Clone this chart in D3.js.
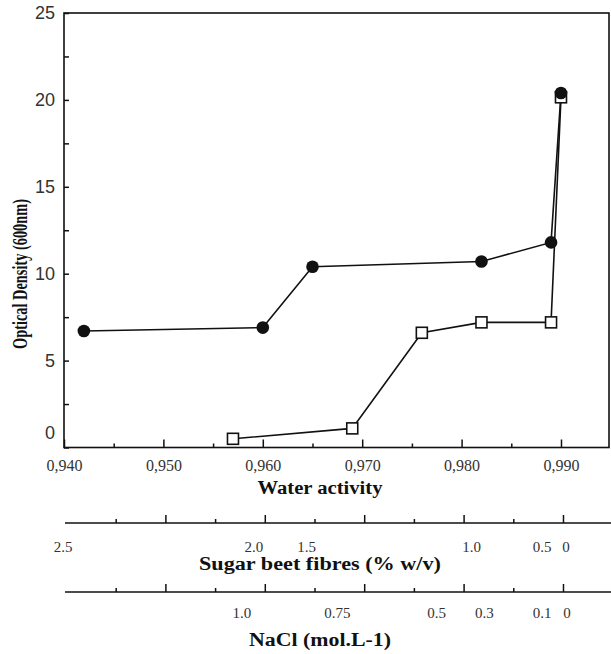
<!DOCTYPE html>
<html lang="en">
<head>
    <meta charset="UTF-8">
    <title>Optical Density vs Water activity</title>
    <script src="https://d3js.org/d3.v7.min.js"></script>
    <style>
        body { margin: 0; background: #fff; }
        svg { display: block; }
        .ytick text { font-family: "Liberation Sans", Arial, sans-serif; font-size: 18px; fill: #333; }
        .xtick text { font-family: "Liberation Serif", "Times New Roman", serif; font-size: 16px; fill: #333; }
        .title { font-family: "Liberation Serif", "Times New Roman", serif; font-weight: bold; fill: #111; }
        .sublabel { font-family: "Liberation Serif", "Times New Roman", serif; font-size: 15px; fill: #333; text-anchor: middle; }
    </style>
</head>
<body>
    <svg width="611" height="654"></svg>
    <script>
        // sugar beet fibre series (filled circles)
        const fibreAw = [0.942, 0.960, 0.965, 0.982, 0.989, 0.990];
        const fibreOD = [6.7, 6.9, 10.4, 10.7, 11.8, 20.4];
        // NaCl series (open squares)
        const naclAw = [0.957, 0.969, 0.976, 0.982, 0.989, 0.990];
        const naclOD = [0.5, 1.1, 6.6, 7.2, 7.2, 20.15];

        const yTicks = [0, 5, 10, 15, 20, 25];
        const xTicks = [0.94, 0.95, 0.96, 0.97, 0.98, 0.99];

        // concentration labels and the water activity they sit under
        const sugarLabels = ["2.5", "2.0", "1.5", "1.0", "0.5", "0"];
        const sugarAw = [0.9399, 0.9591, 0.9644, 0.9810, 0.9881, 0.9905];
        const naclLabels = ["1.0", "0.75", "0.5", "0.3", "0.1", "0"];
        const naclLabelAw = [0.9579, 0.9675, 0.9775, 0.9823, 0.9881, 0.9906];

        const plotLeft = 64, plotRight = 609, plotTop = 13, plotBottom = 447.5;

        const svg = d3.select("svg");
        const x = d3.scaleLinear().domain([0.94, 0.99483]).range([plotLeft, plotRight]);
        const y = d3.scaleLinear().domain([0, 25]).range([plotBottom, plotTop]);
        const fmt = d => d3.format(".3f")(d).replace(".", ",");

        // y axis: labelled ticks and minor ticks, pointing inward
        const yAxis = svg.append("g").attr("class", "ytick")
            .attr("transform", `translate(${plotLeft},0)`)
            .call(d3.axisLeft(y).tickValues(yTicks).tickSize(-5).tickPadding(9));
        yAxis.selectAll("text").filter(d => d === 0).attr("dy", "-0.5em");
        svg.append("g").attr("transform", `translate(${plotLeft},0)`)
            .call(d3.axisLeft(y).tickValues([2.5, 7.5, 12.5, 17.5, 22.5]).tickSize(-5).tickFormat(""));

        // x axis
        svg.append("g").attr("class", "xtick")
            .attr("transform", `translate(0,${plotBottom})`)
            .call(d3.axisBottom(x).tickValues(xTicks).tickSize(-8).tickPadding(12).tickFormat(fmt));
        svg.append("g").attr("transform", `translate(0,${plotBottom})`)
            .call(d3.axisBottom(x).tickValues([0.945, 0.955, 0.965, 0.975, 0.985]).tickSize(-4).tickFormat(""));

        svg.selectAll(".domain").remove();
        svg.selectAll(".tick line").attr("stroke", "#111").attr("stroke-width", 1.5);

        // frame
        svg.append("rect")
            .attr("x", plotLeft).attr("y", plotTop)
            .attr("width", plotRight - plotLeft).attr("height", plotBottom - plotTop)
            .attr("fill", "none").attr("stroke", "#111").attr("stroke-width", 1.6);

        // series
        const fibre = fibreAw.map((a, i) => [a, fibreOD[i]]);
        const nacl = naclAw.map((a, i) => [a, naclOD[i]]);
        const line = d3.line().x(d => x(d[0])).y(d => y(d[1]));

        svg.append("path").datum(nacl).attr("d", line)
            .attr("fill", "none").attr("stroke", "#111").attr("stroke-width", 1.6);
        svg.append("path").datum(fibre).attr("d", line)
            .attr("fill", "none").attr("stroke", "#111").attr("stroke-width", 1.6);

        const sq = 11;
        svg.selectAll(".sq").data(nacl).enter().append("rect")
            .attr("x", d => x(d[0]) - sq / 2).attr("y", d => y(d[1]) - sq / 2)
            .attr("width", sq).attr("height", sq)
            .attr("fill", "#fff").attr("stroke", "#111").attr("stroke-width", 1.6);
        svg.selectAll(".dot").data(fibre).enter().append("circle")
            .attr("cx", d => x(d[0])).attr("cy", d => y(d[1])).attr("r", 6.3)
            .attr("fill", "#111");

        // axis titles
        svg.append("text").attr("class", "title")
            .attr("x", 320).attr("y", 494).attr("text-anchor", "middle")
            .style("font-size", "18px").attr("textLength", 125).attr("lengthAdjust", "spacingAndGlyphs")
            .text("Water activity");
        svg.append("text").attr("class", "title")
            .attr("transform", "translate(27,274) rotate(-90)").attr("text-anchor", "middle")
            .style("font-size", "20px").attr("textLength", 150).attr("lengthAdjust", "spacingAndGlyphs")
            .text("Optical Density (600nm)");

        // secondary scales under the plot
        function secondaryAxis(yPos, labels, aws, labelY, title, titleY, titleLen) {
            const g = svg.append("g").attr("transform", `translate(2,${yPos})`);
            g.append("line").attr("x1", x(0.94) - 1).attr("x2", 611)
                .attr("stroke", "#111").attr("stroke-width", 1.5);
            g.call(d3.axisTop(x).tickValues([0.95, 0.96, 0.97, 0.98, 0.99]).tickSize(8).tickFormat(""));
            const g2 = svg.append("g").attr("transform", `translate(2,${yPos})`);
            g2.call(d3.axisTop(x).tickValues([0.945, 0.955, 0.965, 0.975, 0.985]).tickSize(4).tickFormat(""));
            g.select(".domain").remove();
            g2.select(".domain").remove();
            svg.selectAll(".tick line").attr("stroke", "#111").attr("stroke-width", 1.5);

            svg.selectAll(null).data(labels).enter().append("text")
                .attr("class", "sublabel")
                .attr("x", (d, i) => x(aws[i])).attr("y", labelY)
                .text(d => d);
            svg.append("text").attr("class", "title")
                .attr("x", 320).attr("y", titleY).attr("text-anchor", "middle")
                .style("font-size", "18px").attr("textLength", titleLen).attr("lengthAdjust", "spacingAndGlyphs")
                .text(title);
        }

        secondaryAxis(523, sugarLabels, sugarAw, 552, "Sugar beet fibres (% w/v)", 570, 242);
        secondaryAxis(592, naclLabels, naclLabelAw, 618, "NaCl  (mol.L-1)", 646, 142);
    </script>
</body>
</html>
